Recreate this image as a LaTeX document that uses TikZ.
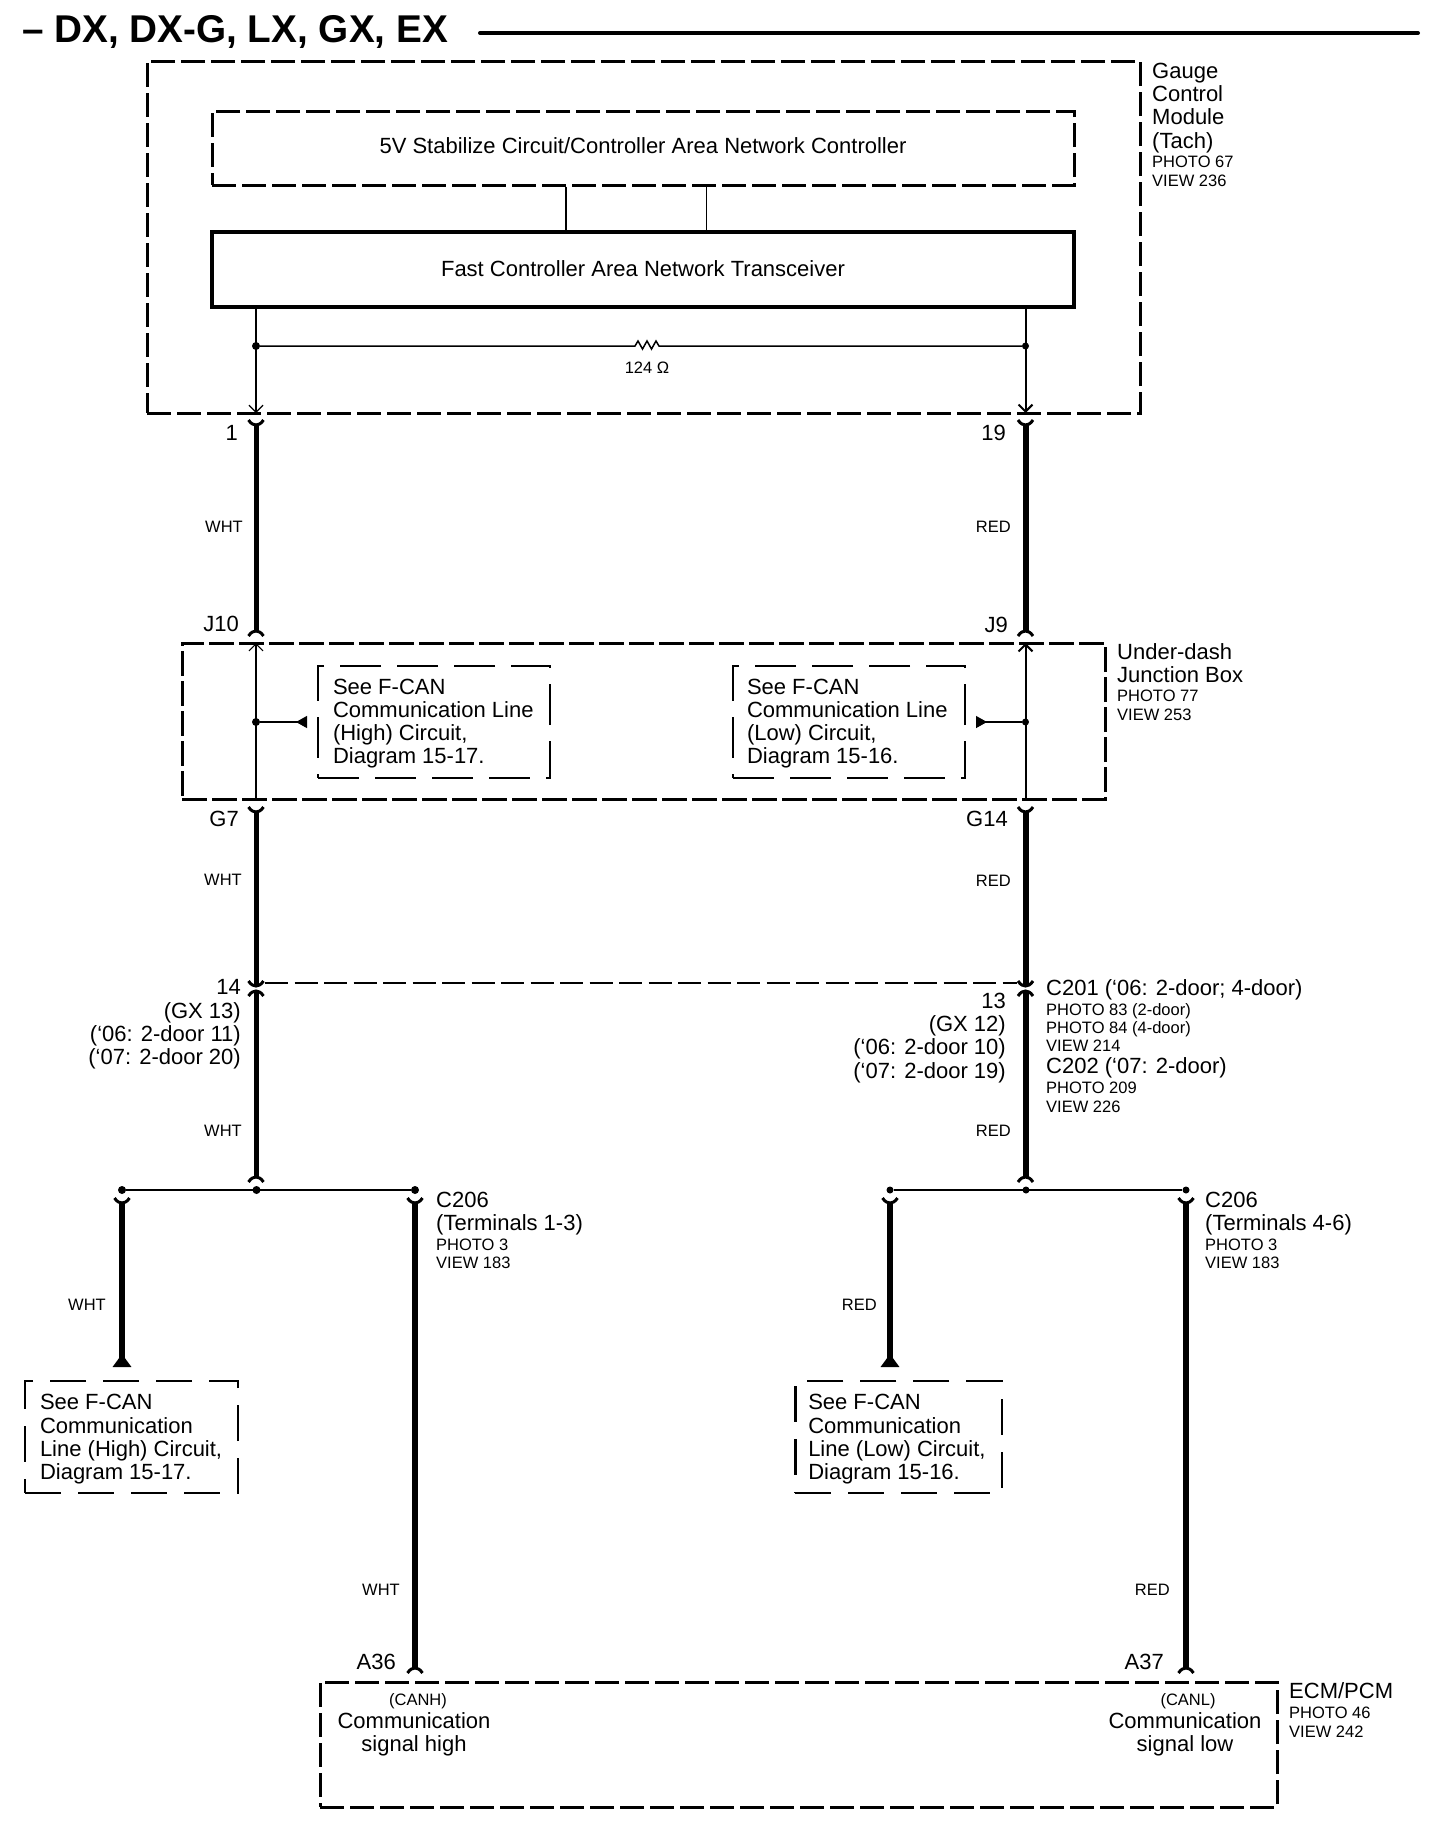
\documentclass[tikz,border=0pt]{standalone}
\usepackage{fontspec}
\setmainfont{Liberation Sans}
\usetikzlibrary{arrows.meta}
\newcommand*{\mainfs}{\fontsize{22}{23.3}\selectfont}
\newcommand*{\smallfs}{\fontsize{16.5}{18}\selectfont}
\newcommand*{\capfork}[2]{\draw[forkline,shift={(#1)},yscale=#2](-7.5,-5)..controls(-5,-1)and(-2,0)..(0,0)..controls(2,0)and(5,-1)..(7.5,-5);}
\tikzset{
  forkline/.style={line width=3pt},
  unitbox/.style={draw,line width=3pt,dash pattern=on 24pt off 6pt,inner sep=0pt},
  notebox/.style={draw,align=flush left,font=\mainfs,inner ysep=0pt},
  wireL/.style={line width=5pt},
  wireR/.style={line width=6pt},
  thinL/.style={line width=1.2pt},
  thinR/.style={line width=2pt},
  pintip/.style={-{Straight Barb[length=7pt,width=14pt]}},
  flag/.style={-{Triangle[reversed,length=11pt,width=12pt]}},
  splice/.style={circle,fill,inner sep=0pt,minimum size=8pt},
  tagmain/.style={font=\mainfs,inner sep=0pt,anchor=base east},
  tagwire/.style={font=\smallfs,inner sep=0pt,anchor=base east},
  blockL/.style={font=\mainfs,inner sep=0pt,anchor=north west,align=left,execute at begin node=\strut},
  blockR/.style={font=\mainfs,inner sep=0pt,anchor=north east,align=right,execute at begin node=\strut},
  blockC/.style={font=\mainfs,inner sep=0pt,align=center}
}
\begin{document}
\begin{tikzpicture}[x=1pt,y=-1pt]
\fill[white](0,0)rectangle(1456,1840);
%title
\node[font=\fontsize{38.7}{40}\selectfont\bfseries,inner sep=0pt,anchor=base west](title)at(22,42){– DX, DX-G, LX, GX, EX};
\coordinate(ruleL)at(480,33);\coordinate(ruleR)at(1418,33);
\draw[line width=4pt,line cap=round](ruleL)--(ruleR);

%gauge control module
\node[unitbox,minimum width=993pt,minimum height=352pt](gauge)at(643.5,237){};
\node[unitbox,font=\mainfs,text depth=4.5pt,minimum width=862pt,minimum height=74pt](stab)at(643,148){5V Stabilize Circuit/Controller Area Network Controller};
\node[draw,line width=4pt,font=\mainfs,text depth=2.5pt,minimum width=862pt,minimum height=75pt](xcvr)at(643,269.5){Fast Controller Area Network Transceiver};
\draw[thinL]([xshift=-77pt]stab.south)--([xshift=-77pt]xcvr.north);
\draw[thinL]([xshift=63.5pt]stab.south)--([xshift=63.5pt]xcvr.north);
\node[blockL](gaugetxt)at(1152,62.6){Gauge\\Control\\Module\\(Tach)\\[-3.7pt]{\smallfs PHOTO 67}\\[-4pt]{\smallfs VIEW 236}};
\coordinate(pinL)at(256,413);\coordinate(pinR)at(1025.5,413);
\node[splice](sg1)at(256,346){};
\node[splice,minimum size=7pt](sg2)at(1025.5,346){};
\draw[thinL,pintip](xcvr.south-|pinL)--(pinL);
\draw[thinR,pintip](xcvr.south-|pinR)--(pinR);
\draw[line width=1.5pt](sg1)--(635,346)--++(3,-5)--++(4.5,8)--++(4.5,-8)--++(4.5,8)--++(4.5,-8)--++(3,5)--(sg2);
\node[font=\smallfs,inner sep=0pt](ohm)at(647,368){124 Ω};

%gauge to junction box
\coordinate(w1a)at(256,425);\coordinate(w1b)at(256,631);
\coordinate(w2a)at(1025.5,425);\coordinate(w2b)at(1025.5,631);
\draw[wireL](w1a)--(w1b);\draw[wireR](w2a)--(w2b);
\capfork{w1a}{1}\capfork{w2a}{1}\capfork{w1b}{-1}\capfork{w2b}{-1}
\node[tagmain](p1)at(238,440.7){1};
\node[tagmain](p19)at(1006,440.7){19};
\node[tagwire](c1)at(243,532){WHT};
\node[tagwire](c2)at(1011,532){RED};
\node[tagmain](pj10)at(239,631.7){J10};
\node[tagmain](pj9)at(1008,632.7){J9};

%under-dash junction box
\node[unitbox,dash pattern=on 25pt off 5pt,minimum width=923pt,minimum height=156pt](ujb)at(643.5,721){};
\coordinate(ujbLa)at(256,643);\coordinate(ujbLb)at(256,799);
\coordinate(ujbRa)at(1025.5,643);\coordinate(ujbRb)at(1025.5,799);
\draw[thinL,pintip,{Straight Barb[length=7pt,width=14pt]}-](ujbLa)--(ujbLb);
\draw[thinR,pintip,{Straight Barb[length=7pt,width=14pt]}-](ujbRa)--(ujbRb);
\node[splice](sj1)at(256,722){};
\node[splice,minimum size=7pt](sj2)at(1025.5,722){};
\coordinate(flagL)at(307,722);\coordinate(flagR)at(976,722);
\draw[thinL,flag](sj1)--(flagL);
\draw[thinL,flag](sj2)--(flagR);
\node[notebox,line width=1.3pt,dash pattern=on 41pt off 16pt,inner xsep=15pt,text width=202pt,minimum height=112pt](noteH)at(434,722){\rule{0pt}{18.5pt}See F-CAN\\Communication Line\\(High) Circuit,\\Diagram 15-17.};
\node[notebox,line width=1.3pt,dash pattern=on 41pt off 16pt,inner xsep=14pt,text width=204pt,minimum height=112pt](noteL)at(849,722){\rule{0pt}{18.5pt}See F-CAN\\Communication Line\\(Low) Circuit,\\Diagram 15-16.};
\node[blockL](ujbtxt)at(1117,643.5){Under-dash\\Junction Box\\[-4.7pt]{\smallfs PHOTO 77}\\[-4pt]{\smallfs VIEW 253}};

%junction box to C201/C202
\coordinate(w3a)at(256,812);\coordinate(w3b)at(256,986);
\coordinate(w4a)at(1025.5,812);\coordinate(w4b)at(1025.5,986);
\draw[wireL](w3a)--(w3b);\draw[wireR](w4a)--(w4b);
\capfork{w3a}{1}\capfork{w4a}{1}\capfork{w3b}{1}\capfork{w4b}{1}
\node[tagmain](pg7)at(239,826.7){G7};
\node[tagmain](pg14)at(1008,826.3){G14};
\node[tagwire](c3)at(242,885){WHT};
\node[tagwire](c4)at(1011,886){RED};
\coordinate(shieldL)at(265,983);\coordinate(shieldR)at(1017,983);
\draw[line width=1.3pt,dash pattern=on 23pt off 6.5pt](shieldL)--(shieldR);
\node[blockR](pinsL)at(241,979.6){14\\(GX 13)\\(‘06: 2-door 11)\\(‘07: 2-door 20)};
\node[blockR](pinsR)at(1006,992.6){13\\(GX 12)\\(‘06: 2-door 10)\\(‘07: 2-door 19)};
\node[blockL](c201)at(1046,979.1){C201 (‘06: 2-door; 4-door)\\[-3.2pt]{\smallfs PHOTO 83 (2-door)}\\[-5pt]{\smallfs PHOTO 84 (4-door)}\\[-5pt]{\smallfs VIEW 214}\\[-1.3pt]C202 (‘07: 2-door)\\[-3.7pt]{\smallfs PHOTO 209}\\[-4pt]{\smallfs VIEW 226}};

%C201 to splice
\coordinate(w5a)at(256,991);\coordinate(w5b)at(256,1177);
\coordinate(w6a)at(1025.5,991);\coordinate(w6b)at(1025.5,1177);
\draw[wireL](w5a)--(w5b);\draw[wireR](w6a)--(w6b);
\capfork{w5a}{-1}\capfork{w6a}{-1}\capfork{w5b}{-1}\capfork{w6b}{-1}
\node[tagwire](c5)at(242,1136){WHT};
\node[tagwire](c6)at(1011,1136){RED};

%high side splice
\node[splice](shm)at(256.5,1190){};
\node[splice](shl)at(122,1190){};
\node[splice](shr)at(415,1190){};
\draw[line width=1.5pt](shl)--(shr);
\coordinate(b1a)at(122,1203);\coordinate(b1b)at(122,1367);
\coordinate(b2a)at(415,1203);\coordinate(b2b)at(415,1668);
\draw[wireR,-{Triangle[reversed,length=13pt,width=18pt]}](b1a)--(b1b);
\draw[wireR](b2a)--(b2b);
\capfork{b1a}{1}\capfork{b2a}{1}\capfork{b2b}{-1}
\node[tagwire](c7)at(106,1310){WHT};
\node[tagwire](c9)at(400,1595){WHT};
\node[notebox,line width=2.5pt,dash pattern=on 36pt off 17pt,inner xsep=15pt,text width=183pt,minimum height=112pt](boxH)at(131.5,1437){\rule{0pt}{20pt}See F-CAN\\Communication\\Line (High) Circuit,\\Diagram 15-17.};
\node[blockL](c206a)at(436,1191.6){C206\\(Terminals 1-3)\\[-3.7pt]{\smallfs PHOTO 3}\\[-5pt]{\smallfs VIEW 183}};

%low side splice
\node[splice,minimum size=7pt](slm)at(1026,1190){};
\node[splice,minimum size=7pt](sll)at(890,1190){};
\node[splice,minimum size=7pt](slr)at(1186,1190){};
\draw[line width=1.5pt](sll)--(slr);
\coordinate(b3a)at(890,1203);\coordinate(b3b)at(890,1367);
\coordinate(b4a)at(1186,1203);\coordinate(b4b)at(1186,1668);
\draw[wireR,-{Triangle[reversed,length=13pt,width=18pt]}](b3a)--(b3b);
\draw[wireR](b4a)--(b4b);
\capfork{b3a}{1}\capfork{b4a}{1}\capfork{b4b}{-1}
\node[tagwire](c8)at(877,1310){RED};
\node[tagwire](c10)at(1170,1595){RED};
\node[notebox,line width=2.5pt,dash pattern=on 36pt off 17pt,inner xsep=13pt,text width=180.5pt,minimum height=112pt](boxL)at(898.5,1437){\rule{0pt}{20pt}See F-CAN\\Communication\\Line (Low) Circuit,\\Diagram 15-16.};
\node[blockL](c206b)at(1205,1191.6){C206\\(Terminals 4-6)\\[-3.7pt]{\smallfs PHOTO 3}\\[-5pt]{\smallfs VIEW 183}};

%ECM/PCM
\node[unitbox,minimum width=957pt,minimum height=125pt](ecm)at(798.5,1744.5){};
\node[tagmain](pa36)at(396,1669.7){A36};
\node[tagmain](pa37)at(1164,1669.7){A37};
\node[font=\smallfs,inner sep=0pt](canh)at(418,1701){(CANH)};
\node[font=\smallfs,inner sep=0pt](canl)at(1188,1701){(CANL)};
\node[blockC](sigH)at(414,1734){Communication\\signal high};
\node[blockC](sigL)at(1185,1734){Communication\\signal low};
\node[blockL](ecmtxt)at(1289,1682.6){ECM/PCM\\[-3.7pt]{\smallfs PHOTO 46}\\[-4pt]{\smallfs VIEW 242}};
\end{tikzpicture}
\end{document}
